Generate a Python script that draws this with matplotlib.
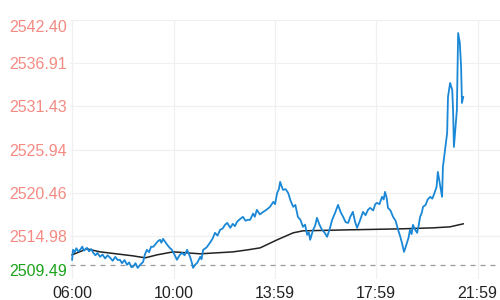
#!/usr/bin/env python3
#
# intraday price chart: price line, average line, previous close
#
import matplotlib
matplotlib.use("Agg")
import matplotlib.pyplot as plt

plt.rcParams['font.family'] = ['Liberation Sans', 'DejaVu Sans']

# minutes since 06:00 and prices
price_min = [0, 2, 6, 10, 14, 19, 24, 28, 35, 40, 45, 50, 55, 60, 66, 72, 78, 84, 90,
             96, 102, 108, 113, 118, 124, 130, 135, 140, 144, 150, 155, 161, 168, 172,
             177, 182, 187, 192, 197, 203, 208, 211, 215, 220, 225, 230, 236, 242, 248,
             254, 260, 266, 272, 279, 283, 286, 291, 296, 303, 306, 310, 318, 326, 332,
             338, 344, 350, 356, 362, 367, 374, 380, 385, 390, 397, 404, 410, 416, 421,
             428, 432, 437, 444, 452, 460, 468, 476, 480, 485, 489, 492, 496, 499, 505,
             511, 517, 523, 528, 534, 540, 546, 551, 556, 560, 563, 566, 570, 575, 579,
             585, 591, 597, 603, 609, 615, 622, 629, 635, 641, 647, 653, 658, 664, 669,
             674, 680, 688, 694, 700, 705, 712, 717, 721, 727, 733, 737, 740, 744, 747,
             753, 759, 765, 771, 776, 780, 785, 788, 792, 796, 799, 803, 806, 811, 816,
             820, 823, 827, 830, 836, 841, 847, 852, 858, 862, 865, 870, 875, 877, 882,
             887, 889, 894, 899, 901, 903, 910, 913, 917, 920, 922, 925]
price = [2511.93, 2513.20, 2512.90, 2513.40, 2513.00, 2513.20, 2513.60, 2513.10, 2513.45,
         2513.00, 2513.30, 2512.82, 2512.50, 2512.80, 2512.31, 2512.60, 2512.10, 2512.50,
         2512.18, 2511.80, 2512.30, 2511.90, 2511.93, 2511.50, 2511.90, 2511.29, 2511.60,
         2511.00, 2511.04, 2511.50, 2510.90, 2511.29, 2511.67, 2512.60, 2513.20, 2512.90,
         2513.60, 2513.58, 2513.90, 2514.30, 2514.47, 2514.10, 2514.59, 2514.20, 2513.83,
         2513.50, 2513.20, 2512.60, 2511.93, 2512.50, 2512.82, 2512.50, 2513.20, 2512.31,
         2511.60, 2510.91, 2511.30, 2511.55, 2512.31, 2512.00, 2513.20, 2513.50, 2514.09,
         2514.60, 2515.36, 2515.00, 2515.74, 2515.90, 2516.40, 2516.62, 2515.99, 2516.50,
         2516.20, 2516.75, 2517.10, 2517.39, 2516.90, 2517.01, 2517.01, 2517.80, 2517.40,
         2518.28, 2517.70, 2518.02, 2518.30, 2518.66, 2519.30, 2519.00, 2520.43, 2520.90,
         2521.83, 2521.20, 2520.82, 2520.90, 2520.43, 2519.40, 2518.66, 2518.90, 2517.39,
         2517.00, 2516.12, 2516.40, 2515.10, 2515.40, 2514.47, 2515.00, 2515.74, 2516.30,
         2517.26, 2516.40, 2515.74, 2515.40, 2514.85, 2515.80, 2517.01, 2517.90, 2518.91,
         2518.00, 2517.39, 2516.70, 2516.62, 2517.40, 2518.02, 2516.80, 2515.99, 2516.80,
         2518.02, 2517.60, 2518.30, 2518.53, 2518.20, 2519.00, 2519.16, 2519.00, 2519.93,
         2519.60, 2520.56, 2519.80, 2518.53, 2518.20, 2517.39, 2516.90, 2515.74, 2514.90,
         2514.09, 2512.94, 2513.40, 2514.09, 2514.80, 2515.74, 2515.20, 2516.37, 2515.80,
         2515.36, 2516.40, 2517.39, 2517.90, 2518.66, 2518.90, 2519.60, 2519.93, 2519.70,
         2520.56, 2521.20, 2523.10, 2521.50, 2519.93, 2523.74, 2525.89, 2528.05, 2532.62,
         2534.40, 2533.51, 2530.97, 2526.27, 2530.97, 2540.75, 2539.48, 2536.43, 2531.86,
         2532.62]

avg_min = [0, 35, 66, 144, 173, 201, 239, 303, 381, 416, 445, 485, 523, 546, 657,
           776, 854, 894, 925]
avg_price = [2512.56, 2513.32, 2512.94, 2512.43, 2512.18, 2512.56, 2512.94, 2512.69,
             2512.94, 2513.20, 2513.45, 2514.47, 2515.36, 2515.61, 2515.74, 2515.86,
             2515.99, 2516.12, 2516.50]

prev_close = 2511.29

y_ticks = [2509.49, 2514.98, 2520.46, 2525.94, 2531.43, 2536.91, 2542.40]
x_ticks = [0, 240, 479, 719, 959]
x_labels = ['06:00', '10:00', '13:59', '17:59', '21:59']

fig = plt.figure(figsize=(5, 3), dpi=100)
ax = fig.add_axes([0.14, 0.07, 0.86, 0.8633])

ax.plot(price_min, price, color='#1a88d6', lw=1.3, zorder=3)
ax.plot(avg_min, avg_price, color='#222222', lw=1.1, zorder=2)
ax.axhline(prev_close, color='#999999', lw=0.9, dashes=(4, 4), zorder=1)

ax.set_xlim(-5, 1012)
ax.set_ylim(y_ticks[0], y_ticks[-1])

ax.set_xticks(x_ticks)
ax.set_xticklabels(x_labels)
ax.set_yticks(y_ticks)
ax.set_yticklabels(['%.2f' % v for v in y_ticks])

ax.grid(True, color='#f0f0f0', lw=0.9)
ax.set_axisbelow(True)
for s in ax.spines.values():
    s.set_visible(False)
ax.tick_params(length=0, labelsize=11.5)
ax.tick_params(axis='x', pad=5, labelcolor='#222222')
ax.tick_params(axis='y', pad=2)

for lab, v in zip(ax.get_yticklabels(), y_ticks):
    lab.set_color('#1aa31a' if v < prev_close else '#f58a82')
labs = ax.get_yticklabels()
labs[0].set_va('bottom')
labs[-1].set_va('top')

fig.savefig('out.png', dpi=100)
